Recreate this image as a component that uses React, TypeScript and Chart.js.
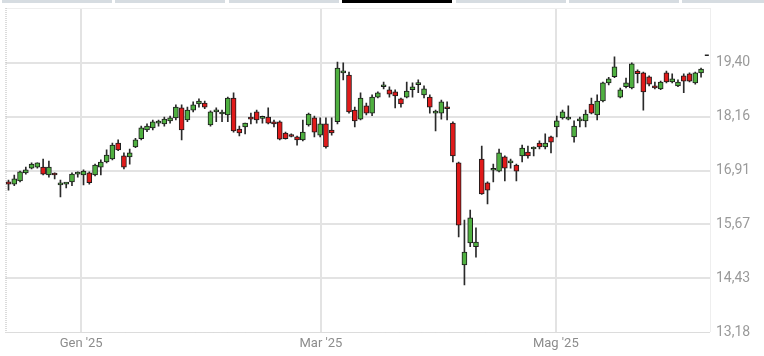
import { useEffect, useRef } from "react";
import { Chart, registerables } from "chart.js";

Chart.register(...registerables);

// Daily sessions, oldest first (index 0 = first visible session, mid-Dec '24)
const opens = [
  16.65, 16.6, 16.67, 16.86, 16.97, 16.99, 16.99, 16.81, 16.82, 16.58,
  16.6, 16.65, 16.83, 16.81, 16.86, 16.81, 16.99, 17.11, 17.18, 17.55,
  17.25, 17.23, 17.46, 17.65, 17.85, 17.9, 18.01, 17.99, 18.06, 18.13,
  18.36, 18.08, 18.31, 18.45, 18.47, 17.97, 18.27, 18.22, 18.2, 18.59,
  17.87, 17.92, 18.15, 18.27, 18.12, 18.15, 18.04, 18.04, 17.78, 17.71,
  17.69, 17.62, 17.97, 18.13, 17.73, 17.99, 17.85, 18.04, 19.17, 19.12,
  18.31, 18.1, 18.41, 18.24, 18.61, 18.85, 18.78, 18.73, 18.57, 18.61,
  18.78, 18.9, 18.66, 18.61, 18.24, 18.24, 18.38, 18.01, 17.09, 14.73,
  15.24, 15.15, 17.18, 16.63, 16.92, 16.9, 17.23, 17.09, 17.04, 17.25,
  17.34, 17.41, 17.55, 17.46, 17.69, 17.92, 18.13, 18.1, 17.69, 18.06,
  18.06, 18.45, 18.2, 18.52, 18.94, 19.08, 18.61, 18.85, 18.82, 19.21,
  19.17, 19.08, 18.87, 18.8, 19.17, 18.96, 18.87, 19.1, 19.15, 18.94,
  19.17,
];
const highs = [
  16.69, 16.81, 16.9, 16.99, 17.09, 17.09, 17.18, 17.13, 16.86, 16.69,
  16.63, 16.86, 16.88, 16.93, 16.88, 17.06, 17.16, 17.39, 17.55, 17.62,
  17.32, 17.41, 17.66, 17.94, 17.99, 18.08, 18.08, 18.15, 18.17, 18.43,
  18.43, 18.38, 18.5, 18.57, 18.52, 18.29, 18.36, 18.31, 18.61, 18.71,
  17.94, 18.01, 18.24, 18.31, 18.17, 18.36, 18.08, 18.06, 17.8, 17.76,
  17.71, 18.08, 18.24, 18.17, 18.13, 18.13, 18.13, 19.42, 19.4, 19.19,
  18.38, 18.71, 18.47, 18.66, 18.73, 18.96, 18.85, 18.78, 18.59, 18.96,
  18.94, 19.01, 18.87, 18.66, 18.31, 18.54, 18.5, 18.04, 17.11, 15.77,
  16.0, 15.59, 17.48, 16.65, 17.06, 17.41, 17.25, 17.18, 17.06, 17.5,
  17.48, 17.46, 17.6, 17.76, 17.71, 18.17, 18.31, 18.41, 18.06, 18.15,
  18.31, 18.59, 18.66, 18.96, 19.07, 19.54, 18.82, 19.05, 19.4, 19.24,
  19.19, 19.1, 18.96, 18.98, 19.21, 19.15, 19.01, 19.15, 19.17, 19.19,
  19.28,
];
const lows = [
  16.46, 16.56, 16.65, 16.83, 16.95, 16.97, 16.81, 16.76, 16.72, 16.3,
  16.51, 16.56, 16.76, 16.58, 16.6, 16.79, 16.81, 17.09, 17.16, 17.37,
  16.95, 17.06, 17.44, 17.62, 17.81, 17.85, 17.94, 17.94, 18.01, 18.08,
  17.62, 18.04, 18.27, 18.38, 18.34, 17.94, 18.04, 18.04, 18.04, 17.8,
  17.71, 17.76, 17.99, 18.01, 18.01, 17.99, 17.92, 17.62, 17.64, 17.69,
  17.5, 17.6, 17.94, 17.69, 17.69, 17.43, 17.73, 17.99, 19.01, 18.24,
  17.92, 18.08, 18.2, 18.18, 18.59, 18.8, 18.61, 18.36, 18.38, 18.59,
  18.61, 18.71, 18.59, 18.24, 17.83, 18.1, 18.08, 17.11, 15.38, 14.27,
  15.15, 14.91, 16.36, 16.14, 16.65, 16.88, 16.67, 16.97, 16.67, 17.11,
  17.2, 17.25, 17.41, 17.41, 17.32, 17.69, 18.1, 18.08, 17.57, 17.92,
  17.92, 18.22, 18.08, 18.5, 18.89, 19.06, 18.59, 18.82, 18.8, 18.94,
  18.31, 18.87, 18.8, 18.78, 18.94, 18.94, 18.85, 18.71, 18.96, 18.91,
  19.07,
];
const closes = [
  16.6, 16.72, 16.88, 16.93, 17.06, 17.09, 16.83, 16.99, 16.81, 16.62,
  16.61, 16.83, 16.84, 16.9, 16.63, 17.04, 17.11, 17.27, 17.5, 17.39,
  16.99, 17.32, 17.62, 17.9, 17.94, 18.04, 18.02, 18.1, 18.13, 18.38,
  17.85, 18.31, 18.43, 18.52, 18.38, 18.27, 18.31, 18.23, 18.59, 17.83,
  17.78, 18.01, 18.1, 18.08, 18.13, 18.01, 17.99, 17.64, 17.65, 17.7,
  17.62, 17.8, 18.22, 17.8, 17.99, 17.46, 17.78, 19.28, 19.19, 18.27,
  18.06, 18.59, 18.24, 18.61, 18.71, 18.86, 18.68, 18.64, 18.45, 18.75,
  18.85, 18.91, 18.8, 18.38, 18.25, 18.5, 18.34, 17.25, 15.65, 15.03,
  15.82, 15.26, 16.37, 16.46, 16.93, 17.32, 16.97, 17.1, 16.9, 17.43,
  17.25, 17.42, 17.46, 17.55, 17.57, 18.06, 18.27, 18.11, 17.94, 18.07,
  18.22, 18.24, 18.52, 18.94, 19.03, 19.31, 18.78, 18.94, 19.38, 19.15,
  18.73, 18.91, 18.82, 18.96, 18.96, 19.03, 18.96, 18.98, 18.98, 19.17,
  19.26,
];
const lastPriceMarker = 19.58;

const monthLabels = ["Gen '25", "Mar '25", "Mag '25"];
const monthPositions = [12.59, 54.14, 94.83];

const yTickValues = [13.18, 14.424, 15.668, 16.912, 18.156, 19.4];
const yTickLabels = ["13,18", "14,43", "15,67", "16,91", "18,16", "19,40"];

const GREEN = "#4fb040";
const RED = "#e01a1a";
const FONT = "Roboto, 'Noto Sans', sans-serif";

const frame = {
  id: "frame",
  beforeDatasetsDraw(chart: any) {
    const { ctx, chartArea: a } = chart;
    ctx.save();
    ctx.lineWidth = 1;
    ctx.strokeStyle = "#eeeeee";
    ctx.beginPath();
    ctx.moveTo(a.left, a.top + 0.5);
    ctx.lineTo(a.right, a.top + 0.5);
    ctx.moveTo(a.right + 0.5, a.top);
    ctx.lineTo(a.right + 0.5, a.bottom);
    ctx.stroke();
    ctx.strokeStyle = "#b8b8b8";
    ctx.setLineDash([1, 1]);
    ctx.beginPath();
    ctx.moveTo(a.left + 0.5, a.top);
    ctx.lineTo(a.left + 0.5, a.bottom);
    ctx.moveTo(a.left, a.bottom + 0.5);
    ctx.lineTo(a.right, a.bottom + 0.5);
    ctx.stroke();
    ctx.restore();
  },
};

export default function App() {
  const ref = useRef<HTMLCanvasElement | null>(null);

  useEffect(() => {
    if (!ref.current) return;
    const wicks = lows.map((l, i) => ({ x: i, y: [l, highs[i]] }));
    const bodies = opens.map((o, i) => ({ x: i, y: [o, closes[i]] }));
    const colors = opens.map((o, i) => (closes[i] >= o ? GREEN : RED));

    const chart = new Chart(ref.current, {
      type: "bar",
      data: {
        datasets: [
          {
            type: "scatter",
            data: [{ x: opens.length, y: lastPriceMarker }],
            pointStyle: "line",
            radius: 2,
            borderColor: "#222",
            borderWidth: 1.5,
            order: 0,
          } as any,
          {
            data: bodies as any,
            backgroundColor: colors,
            borderColor: "#1c1c1c",
            borderWidth: 1,
            borderSkipped: false,
            barThickness: 5,
            minBarLength: 2,
            grouped: false,
            order: 1,
          } as any,
          {
            data: wicks as any,
            backgroundColor: "#2a2a2a",
            borderWidth: 0,
            barThickness: 1,
            grouped: false,
            order: 2,
          } as any,
        ],
      },
      options: {
        animation: false,
        responsive: true,
        maintainAspectRatio: false,
        layout: { padding: { left: 2, top: 8, right: 0, bottom: 0 } },
        plugins: { legend: { display: false }, tooltip: { enabled: false } },
        scales: {
          x: {
            type: "linear",
            offset: false,
            min: -0.52,
            max: 121.55,
            afterBuildTicks: (s: any) => {
              s.ticks = monthPositions.map((v) => ({ value: v }));
            },
            afterFit: (s: any) => {
              s.height = 24;
              s.paddingLeft = 0;
              s.paddingRight = 0;
            },
            ticks: {
              autoSkip: false,
              maxRotation: 0,
              padding: 4,
              color: "#8c8c8c",
              font: { family: FONT, size: 13 },
              callback: (_v: any, i: number) => monthLabels[i],
            },
            grid: { color: "#e3e3e3", lineWidth: 2, drawTicks: false, offset: false },
            border: { display: false },
          },
          y: {
            type: "linear",
            position: "right",
            min: 13.18,
            max: 20.67,
            afterBuildTicks: (s: any) => {
              s.ticks = yTickValues.map((v) => ({ value: v }));
            },
            afterFit: (s: any) => {
              s.width = 54;
              s.paddingTop = 0;
              s.paddingBottom = 0;
            },
            ticks: {
              padding: 6,
              color: "#9a9a9a",
              font: { family: FONT, size: 14 },
              callback: (_v: any, i: number) => yTickLabels[i],
            },
            grid: {
              color: (c: any) => (c.index === 0 ? "rgba(0,0,0,0)" : "#e3e3e3"),
              lineWidth: 2,
              drawTicks: false,
            },
            border: { display: false },
          },
        },
      },
      plugins: [frame],
    });
    return () => chart.destroy();
  }, []);

  const tabs = [0, 1, 2, 3, 4, 5, 6];
  return (
    <div style={{ position: "fixed", left: 0, top: 0, width: 764, height: 356, background: "#fff" }}>
      {tabs.map((t) => (
        <div
          key={t}
          style={{
            position: "absolute",
            top: 0,
            left: 2 + t * 113.4,
            width: 110,
            height: 3,
            background: t === 3 ? "#000" : "#d6dce1",
          }}
        />
      ))}
      <canvas ref={ref} />
    </div>
  );
}
